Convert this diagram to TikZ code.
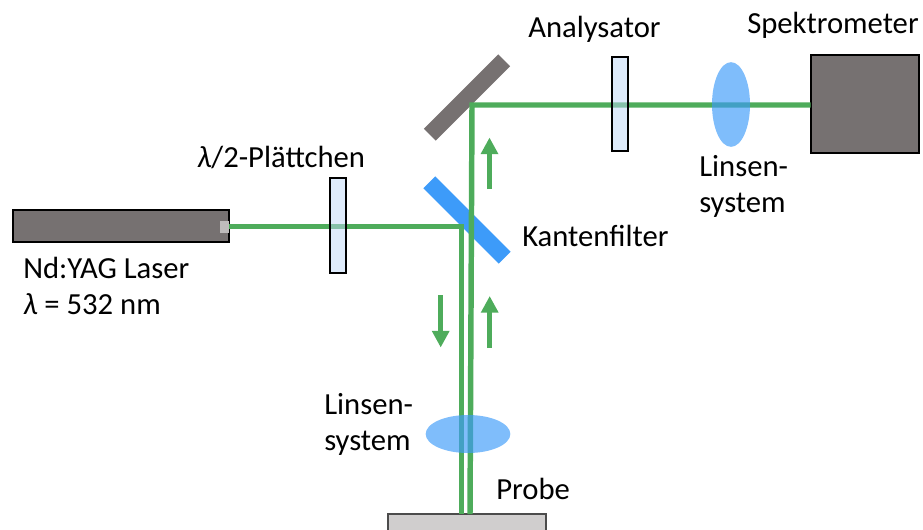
\documentclass[tikz,border=0pt]{standalone}
\usepackage{fontspec}
\setmainfont{Carlito}
\usetikzlibrary{shapes.geometric, arrows.meta}
\definecolor{beamgreen}{HTML}{4EAC5B}
\definecolor{housing}{HTML}{767171}
\definecolor{filterblue}{HTML}{3D9BF9}
\definecolor{platefill}{HTML}{BDD7F7}
\definecolor{samplegray}{HTML}{D0CECE}
\tikzstyle{box} = [rectangle, inner sep=0pt, outer sep=0pt, draw=black, line width=1.5pt, fill=housing]
\tikzstyle{plate} = [rectangle, inner sep=0pt, outer sep=0pt, minimum width=12pt, minimum height=71pt, draw=black, line width=1.4pt, fill=platefill, fill opacity=.5]
\tikzstyle{optic} = [rectangle, inner sep=0pt, outer sep=0pt, minimum height=12.5pt]
\tikzstyle{lens} = [ellipse, inner sep=0pt, outer sep=0pt, fill=filterblue, fill opacity=.66]
\tikzstyle{beam} = [line width=4.1pt, draw=beamgreen, line join=miter]
\tikzstyle{flow} = [line width=3.7pt, draw=beamgreen, -{Triangle[width=12.5pt,length=12.5pt]}]
\tikzstyle{label} = [inner sep=0pt, anchor=west, align=left, font=\fontsize{23}{27}\selectfont]

\begin{document}
\begin{tikzpicture}[x=0.75pt, y=-0.75pt]
		\useasboundingbox (0,0) rectangle (923,529);
		% things under the beams
		\node (mirror) [optic, fill=housing, minimum width=79pt, rotate=45] at (467,97.5) {};
		\node (filter) [optic, fill=filterblue, minimum width=80pt, rotate=-45] at (467,220) {};
		\node (laser) [box, minimum width=162pt, minimum height=24pt] at (120.5,225.5) {};
		\node (port) [rectangle, inner sep=0pt, minimum width=7pt, minimum height=9pt, fill=samplegray!80!housing] at (224.5,226.5) {};
		\node (spec) [box, minimum width=81pt, minimum height=73pt] at (864.5,104) {};
		\node (probe) [box, draw=black!70, fill=samplegray, minimum width=118pt, minimum height=30pt] at (467,534) {};

		\coordinate (turnin) at (461.7,226.5);
		\coordinate (turnout) at (472,105);
		\coordinate (foot) at (470,514);

		\draw [beam] (port.east) -- (turnin) -- (turnin |- probe.north);
		\draw [beam] (foot) -- (turnout) -- (spec.west |- turnout);

		% plates and lenses
		\node (halfwave) [plate] at (338,225.5) {};
		\node (analyser) [plate] at (620,104) {};
		\node (lenstop) [lens, minimum width=28.5pt, minimum height=63.5pt] at (731,104.5) {};
		\node (lensbottom) [lens, minimum width=63.5pt, minimum height=28.5pt] at (468,434) {};

		% direction marks
		\coordinate (upa) at (489.5,189);
		\coordinate (upb) at (489.5,137.5);
		\coordinate (downa) at (440.7,295);
		\coordinate (downb) at (440.7,347.5);
		\coordinate (upc) at (489.7,348);
		\coordinate (upd) at (489.7,296);
		\draw [flow] (upa) -- (upb);
		\draw [flow] (downa) -- (downb);
		\draw [flow] (upc) -- (upd);

		\node (lasertext) [label] at (23,286) {Nd:YAG Laser\\\textit{λ} = 532 nm};
		\node (halfwavetext) [label] at (197,157) {\textit{λ}/2-Plättchen};
		\node (filtertext) [label] at (522,236) {Kantenfilter};
		\node (analysertext) [label] at (528,29) {Analysator};
		\node (spectext) [label] at (747,25) {Spektrometer};
		\node (lenstoptext) [label] at (699,186) {Linsen-\\system};
		\node (lensbottomtext) [label] at (324,424) {Linsen-\\system};
		\node (probetext) [label] at (496,489) {Probe};
	  \end{tikzpicture}
\end{document}
